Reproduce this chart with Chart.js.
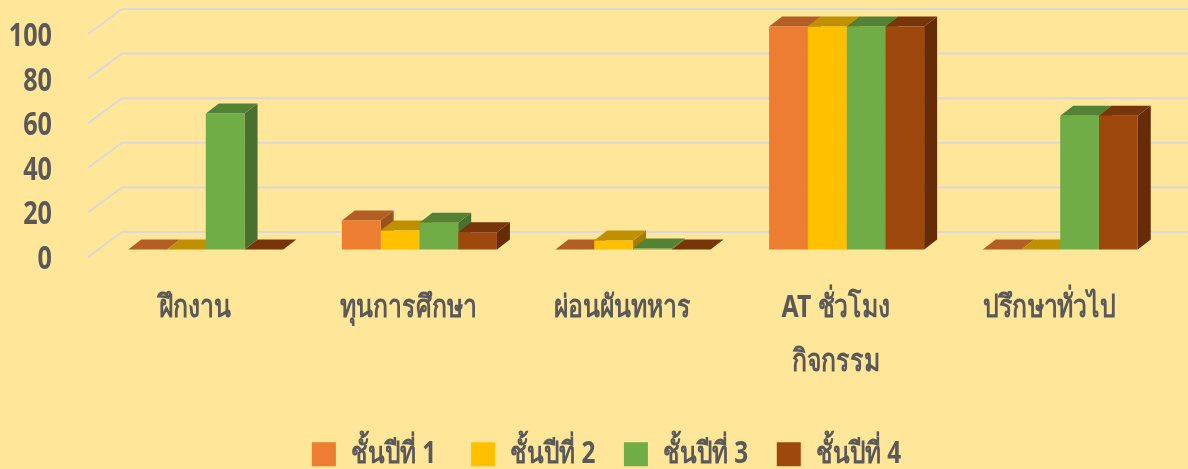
<!DOCTYPE html>
<html>
<head>
<meta charset="utf-8">
<title>chart</title>
<style>
  html, body { margin: 0; padding: 0; background: #FFE699; }
  #wrap { width: 1188px; height: 469px; }
</style>
<script src="https://cdn.jsdelivr.net/npm/chart.js@4"></script>
</head>
<body>
<div id="wrap"><canvas id="chart"></canvas></div>
<script>
const categories = ['ฝึกงาน', 'ทุนการศึกษา', 'ผ่อนผันทหาร', ['AT ชั่วโมง', 'กิจกรรม'], 'ปรึกษาทั่วไป'];
const year1 = [0, 13, 0, 100, 0];
const year2 = [0, 8.5, 4, 100, 0];
const year3 = [61, 12, 0.5, 100, 60];
const year4 = [0, 7.7, 0, 100, 60];
const seriesNames = ['ชั้นปีที่ 1', 'ชั้นปีที่ 2', 'ชั้นปีที่ 3', 'ชั้นปีที่ 4'];
const yTicks = [0, 20, 40, 60, 80, 100];

const fronts = ['#ED7D31', '#FFC000', '#70AD47', '#9E480E'];
const tops = ['#B35E25', '#BF9000', '#548235', '#763609'];
const sides = ['#9A5120', '#A67D00', '#49702E', '#662C07'];

const FONT = '"Noto Sans", sans-serif';
const TEXT = '#595959';

// fake 3d: wall/floor depth for the grid, smaller depth for the bars
const floorDx = 34, floorDy = 25;
const barDx = 13, barDy = 10, barLift = 7.5;

// no condensed thai font here, so squeeze all canvas text sideways
const squeeze = 0.8;
const canvas = document.getElementById('chart');
const c2d = canvas.getContext('2d');
const rawFill = c2d.fillText.bind(c2d);
const rawMeasure = c2d.measureText.bind(c2d);
c2d.fillText = (s, x, y, maxW) => {
  c2d.save();
  c2d.translate(x, y);
  c2d.scale(squeeze, 1);
  rawFill(s, 0, 0, maxW);
  c2d.restore();
};
c2d.measureText = s => ({ width: rawMeasure(s).width * squeeze });

function quad(ctx, pts, color) {
  ctx.fillStyle = color;
  ctx.beginPath();
  pts.forEach((p, i) => i ? ctx.lineTo(p[0], p[1]) : ctx.moveTo(p[0], p[1]));
  ctx.closePath();
  ctx.fill();
}

const fake3d = {
  id: 'fake3d',
  afterLayout(chart) {
    // legend sits right of centre and lower than the layout puts it
    chart.legend.left += 46;
    chart.legend.top += 10.5;
  },
  beforeDatasetsDraw(chart) {
    const { ctx, scales: { y }, chartArea, width } = chart;
    const x0 = chartArea.left - 11;
    ctx.save();
    ctx.strokeStyle = '#D9D9D9';
    ctx.lineWidth = 2;
    yTicks.forEach(v => {
      const py = y.getPixelForValue(v);
      ctx.beginPath();
      ctx.moveTo(x0, py);
      ctx.lineTo(x0 + floorDx, py - floorDy);
      ctx.lineTo(width, py - floorDy);
      ctx.stroke();
    });
    ctx.restore();

    // bars sit a bit further back than the front of the floor
    ctx.save();
    ctx.translate(0, -barLift);
    categories.forEach((c, i) => {
      chart.data.datasets.forEach((ds, d) => {
        const b = chart.getDatasetMeta(d).data[i];
        const l = b.x - b.width / 2, r = b.x + b.width / 2;
        const t = b.y, base = b.base;
        quad(ctx, [[r, t], [r + barDx, t - barDy], [r + barDx, base - barDy], [r, base]], sides[d]);
        quad(ctx, [[l, t], [l + barDx, t - barDy], [r + barDx, t - barDy], [r, t]], tops[d]);
      });
    });
  },
  afterDatasetsDraw(chart) {
    chart.ctx.restore();
  }
};

const datasets = [year1, year2, year3, year4].map((data, i) => ({
  label: seriesNames[i],
  data,
  backgroundColor: fronts[i],
  borderWidth: 0,
  clip: false,
  categoryPercentage: 0.726,
  barPercentage: 1
}));

new Chart(canvas, {
  type: 'bar',
  data: { labels: categories, datasets },
  plugins: [fake3d],
  options: {
    responsive: true,
    maintainAspectRatio: false,
    animation: false,
    layout: { padding: { top: 34, left: 0, right: 21, bottom: 0 } },
    plugins: {
      tooltip: { enabled: false },
      legend: {
        position: 'bottom',
        labels: {
          boxWidth: 24,
          boxHeight: 24,
          padding: 28.5,
          color: TEXT,
          font: { family: FONT, size: 30.5, weight: 'bold' },
          // first gap in the legend is a bit wider than the others
          generateLabels(chart) {
            const items = Chart.defaults.plugins.legend.labels.generateLabels(chart);
            items[0].text += ' ';
            return items;
          }
        }
      }
    },
    scales: {
      x: {
        grid: { display: false },
        border: { display: false },
        afterFit(axis) {
          axis.height = 143;
          axis.paddingLeft = axis.paddingRight = 0;
        },
        ticks: {
          color: TEXT,
          padding: 16,
          labelOffset: -11,
          maxRotation: 0,
          font: { family: FONT, size: 31, weight: 'bold', lineHeight: 1.74 }
        }
      },
      y: {
        min: 0,
        max: 100,
        grid: { display: false },
        border: { display: false },
        afterFit(axis) {
          axis.width = 99;
          axis.paddingTop = axis.paddingBottom = 0;
        },
        afterBuildTicks(axis) { axis.ticks = yTicks.map(value => ({ value })); },
        ticks: {
          color: TEXT,
          padding: 39,
          labelOffset: 3,
          font: { family: FONT, size: 31.5, weight: 'bold' }
        }
      }
    }
  }
});
</script>
</body>
</html>
